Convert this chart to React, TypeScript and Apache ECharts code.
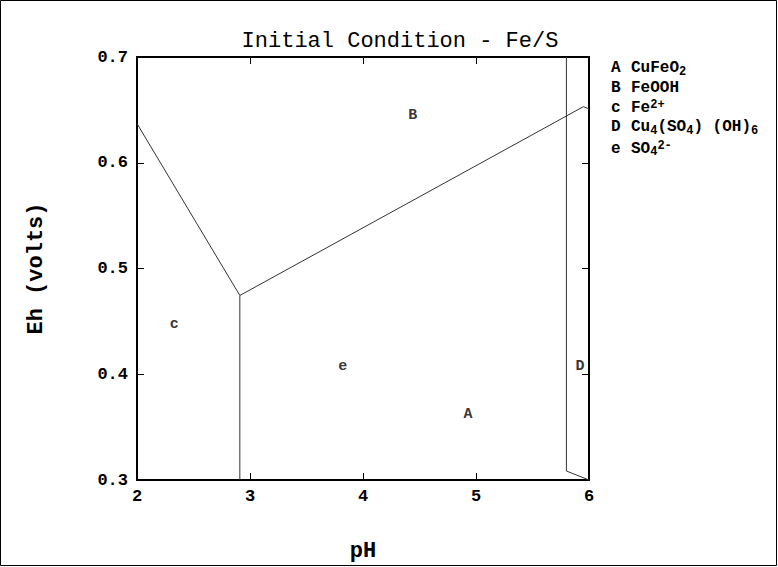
import React, { useEffect, useRef } from "react";
import * as echarts from "echarts";

const TITLE = "Initial Condition - Fe/S";
const X_NAME = "pH";
const Y_NAME = "Eh (volts)";
const X_MIN = 2, X_MAX = 6, X_INT = 1;
const Y_MIN = 0.3, Y_MAX = 0.7, Y_INT = 0.1;

// boundary lines [pH, Eh]
const lineLeft: [number, number][] = [[2, 0.637], [2.91, 0.4745]];
const lineVert: [number, number][] = [[2.91, 0.4745], [2.91, 0.3]];
const lineUpper: [number, number][] = [[2.91, 0.4745], [5.95, 0.653], [6, 0.651]];
const lineRight: [number, number][] = [[5.8, 0.7], [5.8, 0.3085], [6, 0.3]];

// region labels
const regionLabels = ["B", "c", "e", "A", "D"];
const regionPH = [4.44, 2.33, 3.82, 4.93, 5.92];
const regionEh = [0.645, 0.447, 0.407, 0.362, 0.407];

// legend: key letters and formula segments (n = normal, b = subscript, p = superscript)
const legendKeys = ["A", "B", "c", "D", "e"];
const legendSegments: [string, string][][] = [
  [["n", "CuFeO"], ["b", "2"]],
  [["n", "FeOOH"]],
  [["n", "Fe"], ["p", "2+"]],
  [["n", "Cu"], ["b", "4"], ["n", "(SO"], ["b", "4"], ["n", ") (OH)"], ["b", "6"]],
  [["n", "SO"], ["b", "4"], ["p", "2-"]],
];

const MONO = "'Liberation Mono', 'Courier New', monospace";

export default function App() {
  const ref = useRef<HTMLDivElement>(null);
  useEffect(() => {
    const chart = echarts.init(ref.current!, null, { renderer: "svg" });
    const lineStyle = { color: "#333", width: 1 };
    const mkLine = (d: [number, number][]) => ({
      type: "line",
      data: d,
      symbol: "none",
      lineStyle,
      silent: true,
      z: 3,
    });
    const axisLine = { show: true, lineStyle: { color: "#000", width: 2 } };
    const axisTick = { show: true, inside: true, length: 7, lineStyle: { color: "#000", width: 1 } };
    const labelStyle = { fontFamily: MONO, fontSize: 17, fontWeight: "bold", color: "#000" };

    const BASE = 16, SMALL = 12;
    const rowY = [68, 88, 107.5, 127, 148.5];
    const legendGraphics: any[] = [];
    legendKeys.forEach((k, i) => {
      const yc = rowY[i];
      legendGraphics.push({
        type: "text",
        x: 611,
        y: yc,
        style: {
          text: k, font: `bold ${BASE}px ${MONO}`, lineHeight: BASE,
          fill: "#000", textVerticalAlign: "middle",
        },
      });
      let x = 631;
      legendSegments[i].forEach(([kind, t]) => {
        const size = kind === "n" ? BASE : SMALL;
        const dy = kind === "b" ? 3.5 : kind === "p" ? -3 : 0;
        legendGraphics.push({
          type: "text",
          x,
          y: yc + dy,
          style: {
            text: t, font: `bold ${size}px ${MONO}`, lineHeight: size,
            fill: "#000", textVerticalAlign: "middle",
          },
        });
        x += t.length * size * 0.6;
      });
    });

    chart.setOption({
      animation: false,
      backgroundColor: "#fff",
      title: {
        text: TITLE,
        left: 395,
        top: 25,
        textAlign: "center",
        textStyle: { fontFamily: MONO, fontSize: 22, fontWeight: "normal", color: "#000" },
      },
      grid: { left: 137, top: 57, width: 452, height: 424, containLabel: false },
      xAxis: [
        {
          type: "value", min: X_MIN, max: X_MAX, interval: X_INT, position: "bottom",
          axisLine, axisTick, splitLine: { show: false },
          axisLabel: { ...labelStyle, margin: 8, showMinLabel: true, showMaxLabel: true },
          name: X_NAME, nameLocation: "middle", nameGap: 60,
          nameTextStyle: { fontFamily: MONO, fontSize: 22, fontWeight: "bold", color: "#000" },
        },
        {
          type: "value", min: X_MIN, max: X_MAX, interval: X_INT, position: "top",
          axisLine, axisTick, splitLine: { show: false }, axisLabel: { show: false },
        },
      ],
      yAxis: [
        {
          type: "value", min: Y_MIN, max: Y_MAX, interval: Y_INT, position: "left",
          axisLine, axisTick, splitLine: { show: false },
          axisLabel: { ...labelStyle, margin: 9, formatter: (v: number) => v.toFixed(1) },
          name: Y_NAME, nameLocation: "middle", nameGap: 90, nameRotate: 90,
          nameTextStyle: { fontFamily: MONO, fontSize: 22, fontWeight: "bold", color: "#000" },
        },
        {
          type: "value", min: Y_MIN, max: Y_MAX, interval: Y_INT, position: "right",
          axisLine, axisTick, splitLine: { show: false }, axisLabel: { show: false },
        },
      ],
      series: [
        mkLine(lineLeft),
        mkLine(lineVert),
        mkLine(lineUpper),
        mkLine(lineRight),
        {
          type: "scatter",
          symbolSize: 0,
          silent: true,
          data: regionLabels.map((l, i) => ({ value: [regionPH[i], regionEh[i]], name: l })),
          label: {
            show: true,
            position: "inside",
            formatter: (p: any) => p.name,
            fontFamily: MONO,
            fontSize: 15,
            fontWeight: "bold",
            color: "#000",
          },
          z: 4,
        },
      ],
      graphic: [
        {
          type: "rect",
          shape: { x: 0.5, y: 0.5, width: 776, height: 565 },
          style: { fill: "none", stroke: "#000", lineWidth: 1 },
          silent: true,
        },
        ...legendGraphics,
      ],
    });
    return () => chart.dispose();
  }, []);
  return (
    <div
      ref={ref}
      style={{ position: "fixed", left: 0, top: 0, width: 778, height: 567 }}
    />
  );
}
